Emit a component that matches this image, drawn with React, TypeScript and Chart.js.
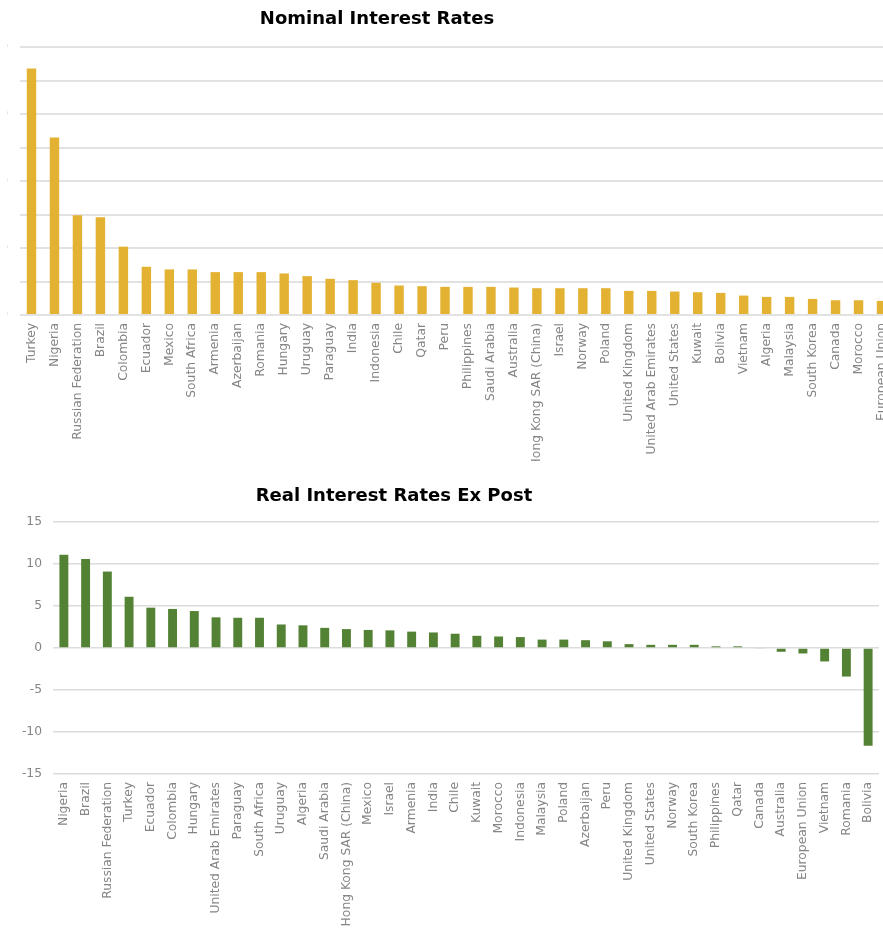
import React, { useEffect, useRef } from "react";
import { Chart, registerables } from "chart.js";

Chart.register(...registerables);

const nominalCountries = [
  "Turkey", "Nigeria", "Russian Federation", "Brazil", "Colombia", "Ecuador", "Mexico",
  "South Africa", "Armenia", "Azerbaijan", "Romania", "Hungary", "Uruguay", "Paraguay",
  "India", "Indonesia", "Chile", "Qatar", "Peru", "Philippines", "Saudi Arabia", "Australia",
  "Hong Kong SAR (China)", "Israel", "Norway", "Poland", "United Kingdom",
  "United Arab Emirates", "United States", "Kuwait", "Bolivia", "Vietnam", "Algeria",
  "Malaysia", "South Korea", "Canada", "Morocco", "European Union",
];
const nominalRates = [
  36.8, 26.5, 14.9, 14.6, 10.2, 7.2, 6.8, 6.8, 6.4, 6.4, 6.4, 6.2, 5.8, 5.4, 5.2, 4.8, 4.4,
  4.3, 4.2, 4.2, 4.2, 4.1, 4.0, 4.0, 4.0, 4.0, 3.6, 3.6, 3.5, 3.4, 3.3, 2.9, 2.7, 2.7, 2.4,
  2.2, 2.2, 2.1,
];
const nominalAxis = { min: 0, max: 40, step: 5 };

const realCountries = [
  "Nigeria", "Brazil", "Russian Federation", "Turkey", "Ecuador", "Colombia", "Hungary",
  "United Arab Emirates", "Paraguay", "South Africa", "Uruguay", "Algeria", "Saudi Arabia",
  "Hong Kong SAR (China)", "Mexico", "Israel", "Armenia", "India", "Chile", "Kuwait",
  "Morocco", "Indonesia", "Malaysia", "Poland", "Azerbaijan", "Peru", "United Kingdom",
  "United States", "Norway", "South Korea", "Philippines", "Qatar", "Canada", "Australia",
  "European Union", "Vietnam", "Romania", "Bolivia",
];
const realRates = [
  11.1, 10.6, 9.1, 6.1, 4.8, 4.65, 4.4, 3.65, 3.6, 3.6, 2.8, 2.7, 2.4, 2.25, 2.15, 2.1, 1.95,
  1.85, 1.7, 1.45, 1.37, 1.3, 1.0, 1.0, 0.93, 0.8, 0.46, 0.38, 0.38, 0.38, 0.2, 0.2, -0.1,
  -0.45, -0.65, -1.6, -3.4, -11.65,
];
const realAxis = { min: -15, max: 15, step: 5 };

const FONT = '"DejaVu Sans", sans-serif';
const TICK_COLOR = "#858585";

function buildChart(
  canvas: HTMLCanvasElement,
  labels: string[],
  values: number[],
  color: string,
  axis: { min: number; max: number; step: number },
  opt: {
    padTop: number;
    padRight: number;
    yWidth: number;
    xHeight: number;
    yPad: number;
    gridColor: string;
    gridWidth: number;
  }
) {
  return new Chart(canvas, {
    type: "bar",
    data: {
      labels,
      datasets: [
        {
          data: values,
          backgroundColor: color,
          borderWidth: 0,
          barPercentage: 0.41,
          categoryPercentage: 1,
        },
      ],
    },
    options: {
      responsive: false,
      animation: false,
      layout: { padding: { top: opt.padTop, right: opt.padRight, left: 0, bottom: 0 } },
      plugins: { legend: { display: false }, tooltip: { enabled: false }, title: { display: false } },
      scales: {
        x: {
          grid: { display: false, drawTicks: false },
          border: { display: false },
          ticks: {
            autoSkip: false,
            maxRotation: 90,
            minRotation: 90,
            padding: 8,
            color: TICK_COLOR,
            font: { family: FONT, size: 12.3 },
          },
          afterFit: (s: any) => {
            s.height = opt.xHeight;
            s.paddingLeft = 0;
            s.paddingRight = 0;
          },
        },
        y: {
          min: axis.min,
          max: axis.max,
          grid: { color: opt.gridColor, lineWidth: opt.gridWidth, drawTicks: false },
          border: { display: false },
          ticks: {
            stepSize: axis.step,
            padding: opt.yPad,
            color: TICK_COLOR,
            font: { family: FONT, size: 12.3 },
          },
          afterFit: (s: any) => {
            s.width = opt.yWidth;
            s.paddingTop = 0;
            s.paddingBottom = 0;
          },
        },
      },
    },
  });
}

function titleStyle(cx: number, top: number): React.CSSProperties {
  return {
    position: "absolute",
    left: cx - 300,
    top,
    width: 600,
    textAlign: "center",
    fontFamily: FONT,
    fontWeight: "bold",
    fontSize: 18,
    lineHeight: "24px",
    color: "#000",
    whiteSpace: "nowrap",
  };
}

export default function App() {
  const topRef = useRef<HTMLCanvasElement>(null);
  const botRef = useRef<HTMLCanvasElement>(null);

  useEffect(() => {
    const c1 = buildChart(topRef.current!, nominalCountries, nominalRates, "#E4B232", nominalAxis, {
      padTop: 47,
      padRight: 0,
      yWidth: 40,
      xHeight: 165,
      yPad: 12,
      gridColor: "#e2e2e2",
      gridWidth: 2,
    });
    const c2 = buildChart(botRef.current!, realCountries, realRates, "#548235", realAxis, {
      padTop: 61,
      padRight: 4,
      yWidth: 53,
      xHeight: 167,
      yPad: 11,
      gridColor: "#dcdcdc",
      gridWidth: 1.5,
    });
    return () => {
      c1.destroy();
      c2.destroy();
    };
  }, []);

  return (
    <div
      style={{
        position: "absolute",
        left: 0,
        top: 0,
        width: 883,
        height: 928,
        overflow: "hidden",
        background: "#fff",
      }}
    >
      <div style={{ position: "absolute", left: 7, top: 0, width: 876, height: 461, overflow: "hidden" }}>
        <canvas
          ref={topRef}
          width={913}
          height={480}
          style={{ position: "absolute", left: -27, top: 0, width: 913, height: 480 }}
        />
      </div>
      <div style={{ position: "absolute", left: 0, top: 461, width: 883, height: 467, overflow: "hidden" }}>
        <canvas
          ref={botRef}
          width={883}
          height={480}
          style={{ position: "absolute", left: 0, top: 0, width: 883, height: 480 }}
        />
      </div>
      <div style={titleStyle(377, 6)}>Nominal Interest Rates</div>
      <div style={titleStyle(394, 483)}>Real Interest Rates Ex Post</div>
    </div>
  );
}
